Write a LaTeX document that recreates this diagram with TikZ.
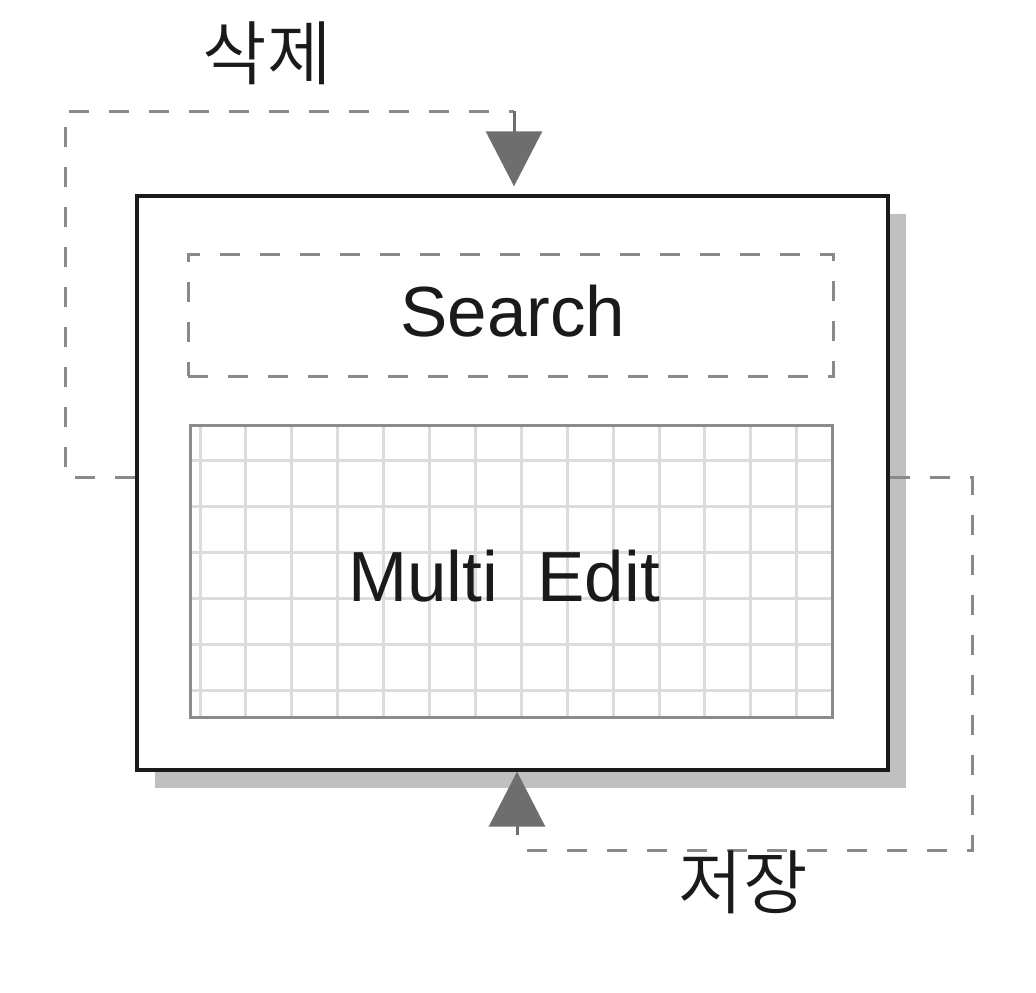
\documentclass[tikz,border=0pt]{standalone}
\usepackage{fontspec}
\setmainfont{Liberation Sans}
\newfontfamily\krfont{Noto Sans CJK KR DemiLight}
\usetikzlibrary{arrows.meta,shadows,calc}
\definecolor{dashgray}{HTML}{8A8A8A}
\definecolor{arrowgray}{HTML}{6E6E6E}
\definecolor{gridgray}{HTML}{DCDCDC}
\definecolor{gridborder}{HTML}{8C8C8C}
\definecolor{shadowgray}{HTML}{C0C0C0}
\definecolor{boxblack}{HTML}{1A1A1A}
\definecolor{textblack}{HTML}{1A1A1A}
\tikzset{
  mainbox/.style={draw=boxblack, line width=3.4pt, fill=white, minimum width=751pt, minimum height=574pt, inner sep=0pt,
    drop shadow={shadow xshift=18pt, shadow yshift=-18pt, fill=shadowgray, opacity=1}},
  searchbox/.style={draw=dashgray, line width=3pt, dash pattern=on 20pt off 20pt, minimum width=645pt, minimum height=122pt, inner sep=0pt},
  gridbox/.style={draw=gridborder, line width=3pt, minimum width=642pt, minimum height=292pt, inner sep=0pt},
  gridline/.style={draw=gridgray, line width=3pt},
  conn/.style={draw=dashgray, line width=3pt, dash pattern=on 20pt off 20pt},
  tip/.style={-{Triangle[length=55pt, width=56pt, fill=arrowgray, color=arrowgray]}},
  label/.style={font=\fontsize{71}{80}\selectfont, text=textblack, inner sep=0pt},
  krlabel/.style={font=\krfont\fontsize{70}{80}\selectfont, text=textblack, inner sep=0pt}
}
\begin{document}
\begin{tikzpicture}[x=1pt, y=-1pt]
\useasboundingbox (0,0) rectangle (1036,993);
% main box
\node[mainbox] (main) at (512.5,483) {};
% search
\node[searchbox] (search) at (510.5,315) {};
\node[label] (searchtext) at (513,311) {Search};
% grid
\node[gridbox, path picture={
    \foreach \k in {0,...,13} {
      \draw[gridline] ($(path picture bounding box.north west)+(10+45.9*\k,-5)$) -- ($(path picture bounding box.south west)+(10+45.9*\k,5)$);
    }
    \foreach \k in {0,...,5} {
      \draw[gridline] ($(path picture bounding box.north west)+(-5,35+46*\k)$) -- ($(path picture bounding box.north east)+(5,35+46*\k)$);
    }
  }] (grid) at (511,571) {};
\node[label] (gridtext) at (504,576) {Multi\ \ Edit};
% coordinates for connectors
\coordinate (lout) at (137,477);
\coordinate (lc1) at (65,477);
\coordinate (lc2) at (65,111);
\coordinate (lc3) at (514,111);
\coordinate (rout) at (888,477);
\coordinate (rc1) at (972,477);
\coordinate (rc2) at (972,850);
\coordinate (rc3) at (517,850);
% left connector (삭제)
\draw[conn] (main.west |- lout) -- (lc1) -- (lc2) -- (lc3);
\draw[line width=3pt, draw=arrowgray, tip] (lc3) -- ($(main.north -| lc3)+(0,-8)$);
% right connector (저장)
\draw[conn] (main.east |- rout) -- (rc1) -- (rc2) -- (rc3);
\draw[line width=3pt, draw=arrowgray, tip] ($(rc3)+(0,-15)$) -- (main.south -| rc3);
% labels
\node[krlabel] (del) at (267,53) {삭제};
\node[krlabel] (save) at (743,882) {저장};
\end{tikzpicture}
\end{document}
